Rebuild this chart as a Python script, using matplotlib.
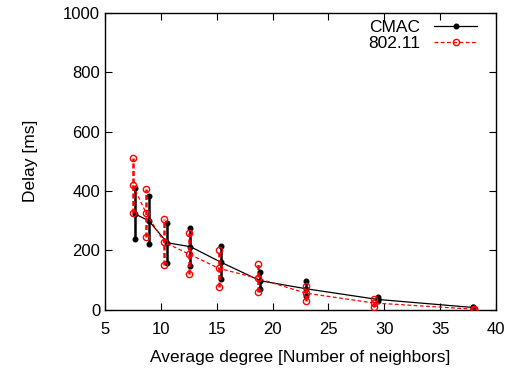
import numpy as np
import matplotlib.pyplot as plt

plt.rcParams['font.family'] = ['Liberation Sans', 'DejaVu Sans']

# CMAC: average degree, mean delay, min, max
cmac_x = [7.69, 8.9, 10.58, 12.64, 15.35, 18.9, 23.0, 29.4, 37.9]
cmac_mean = [322, 300, 225, 212, 160, 97, 70, 34, 7]
cmac_lo = [238, 220, 158, 147, 104, 68, 45, 28, 4]
cmac_hi = [410, 382, 293, 276, 215, 127, 97, 43, 10]

# 802.11
wifi_x = [7.48, 8.67, 10.31, 12.52, 15.18, 18.67, 23.0, 29.08, 38.0]
wifi_mean = [420, 326, 227, 187, 139, 105, 55, 22, 1]
wifi_lo = [326, 243, 150, 120, 77, 58, 29, 10, 0]
wifi_hi = [511, 405, 304, 259, 201, 152, 79, 34, 3]

fig = plt.figure(figsize=(5.19, 3.69), dpi=100)
ax = fig.add_axes([0.2023, 0.1612, 0.7534, 0.8036])

# error bars
ax.vlines(cmac_x, cmac_lo, cmac_hi, color='black', linewidth=1.8, zorder=3)
ax.vlines(wifi_x, wifi_lo, wifi_hi, color='red', linewidth=1.8, linestyles=(0, (2, 1)), zorder=4)

# mean lines
ax.plot(cmac_x, cmac_mean, color='black', linewidth=0.9, marker='o', markersize=3.3,
        label='CMAC', zorder=3)
ax.plot(wifi_x, wifi_mean, color='red', linewidth=0.9, linestyle='--', dashes=(3, 2),
        marker='o', markersize=4.5, markerfacecolor='none', markeredgewidth=1.0,
        label='802.11', zorder=4)

# end points of the bars
ax.plot(cmac_x + cmac_x, cmac_lo + cmac_hi, 'o', color='black', markersize=3.3, zorder=3)
ax.plot(wifi_x + wifi_x, wifi_lo + wifi_hi, 'o', color='red', markersize=4.5,
        markerfacecolor='none', markeredgewidth=1.0, zorder=4)

ax.set_xlim(5, 40)
ax.set_ylim(0, 1000)
ax.set_xticks(np.arange(5, 41, 5))
ax.set_yticks(np.arange(0, 1001, 200))
ax.tick_params(direction='in', top=True, right=True, labelsize=12, length=5, width=0.8)
ax.tick_params(axis='x', pad=9)
for s in ax.spines.values():
    s.set_linewidth(1.0)

ax.set_xlabel('Average degree [Number of neighbors]', fontsize=12.5, labelpad=9)
ax.set_ylabel('Delay [ms]', fontsize=12.5, labelpad=18)

ax.legend(loc='upper right', frameon=False, markerfirst=False, fontsize=12.5,
          handlelength=2.5, borderaxespad=0.2, labelspacing=0.05, borderpad=0.2,
          bbox_to_anchor=(0.97, 1.0))

fig.savefig('out.png', dpi=100)
